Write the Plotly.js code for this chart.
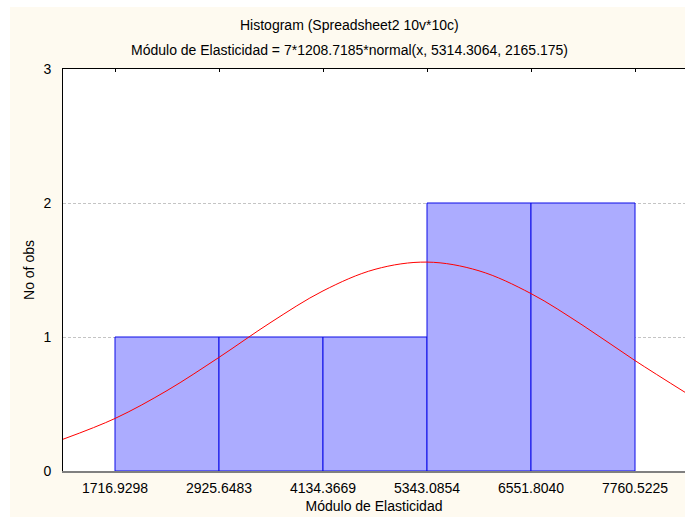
<!DOCTYPE html>
<html>
<head>
<meta charset="utf-8">
<script src="https://cdn.plot.ly/plotly-3.0.1.min.js"></script>
<style>
html, body { margin: 0; padding: 0; background: #ffffff; }
#chart { position: absolute; left: 10px; top: 7px; width: 675px; height: 510px; }
</style>
</head>
<body>
<div id="chart"></div>
<script>
// Data
const binEdges = [1716.9298, 2925.6483, 4134.3669, 5343.0854, 6551.8040, 7760.5225];
const binEdgeLabels = ["1716.9298", "2925.6483", "4134.3669", "5343.0854", "6551.8040", "7760.5225"];
const counts = [1, 1, 1, 2, 2];
const curveX = [1112.57, 1716.93, 2321.29, 2925.65, 3530.01, 4134.37, 4738.73, 5343.09, 5947.44, 6551.80, 7156.16, 7760.52, 8364.88];
const curveY = [0.237, 0.392, 0.600, 0.848, 1.110, 1.344, 1.505, 1.559, 1.494, 1.324, 1.086, 0.824, 0.578];
const yTicks = [0, 1, 2, 3];
const titleText = "Histogram (Spreadsheet2 10v*10c)";
const subtitleText = "Módulo de Elasticidad = 7*1208.7185*normal(x, 5314.3064, 2165.175)";
const xTitle = "Módulo de Elasticidad";
const yTitle = "No of obs";

const barX = counts.map((c, i) => (binEdges[i] + binEdges[i + 1]) / 2);
const barW = counts.map((c, i) => binEdges[i + 1] - binEdges[i]);

const xRange = [1112.57, 8341.6];

const traces = [
  {
    type: 'bar',
    x: barX,
    y: counts,
    width: barW,
    marker: {
      color: '#ffffff',
      pattern: { shape: '.', fgcolor: '#3030ff', bgcolor: '#ffffff', size: 2, solidity: 0.42 },
      line: { color: '#0a0ae6', width: 1 }
    },
    hoverinfo: 'skip',
    showlegend: false
  },
  {
    type: 'scatter',
    mode: 'lines',
    x: curveX,
    y: curveY,
    xaxis: 'x2',
    line: { color: '#ff0000', width: 1, shape: 'spline' },
    hoverinfo: 'skip',
    showlegend: false
  }
];

const font = { family: 'Liberation Sans, Arial, sans-serif', size: 14, color: '#000000' };

const layout = {
  width: 675,
  height: 510,
  margin: { l: 53, r: 0, t: 62, b: 46, pad: 0 },
  paper_bgcolor: '#fefaf0',
  plot_bgcolor: '#ffffff',
  font: font,
  bargap: 0,
  showlegend: false,
  xaxis: {
    range: xRange,
    tickmode: 'array',
    tickvals: binEdges,
    ticktext: binEdgeLabels,
    ticks: 'outside',
    ticklen: 3,
    tickcolor: 'rgba(0,0,0,0)',
    showgrid: false,
    zeroline: false,
    showline: true,
    linecolor: '#808080',
    linewidth: 2,
    tickfont: font,
    title: { text: xTitle, font: font, standoff: 6 }
  },
  xaxis2: {
    range: xRange,
    overlaying: 'x',
    side: 'top',
    tickmode: 'array',
    tickvals: binEdges,
    ticks: 'inside',
    ticklen: 3,
    tickcolor: '#000000',
    showticklabels: false,
    showgrid: false,
    zeroline: false,
    showline: true,
    linecolor: '#000000',
    linewidth: 1
  },
  yaxis: {
    range: [0, 3],
    tickmode: 'array',
    tickvals: yTicks,
    ticktext: yTicks.map(String),
    ticks: 'outside',
    ticklen: 8,
    tickcolor: 'rgba(0,0,0,0)',
    showgrid: true,
    gridcolor: '#c4c4c4',
    griddash: '3px,2px',
    gridwidth: 1,
    zeroline: false,
    showline: true,
    linecolor: '#000000',
    linewidth: 1,
    tickfont: font,
    title: { text: yTitle, font: font, standoff: 5 }
  },
  annotations: [
    { text: titleText, xref: 'paper', yref: 'paper', x: 0.4614, y: 1, xanchor: 'center', yanchor: 'middle', yshift: 44, showarrow: false, font: font },
    { text: subtitleText, xref: 'paper', yref: 'paper', x: 0.4614, y: 1, xanchor: 'center', yanchor: 'middle', yshift: 19, showarrow: false, font: font }
  ]
};

Plotly.newPlot('chart', traces, layout, { staticPlot: true, displayModeBar: false });
</script>
</body>
</html>
